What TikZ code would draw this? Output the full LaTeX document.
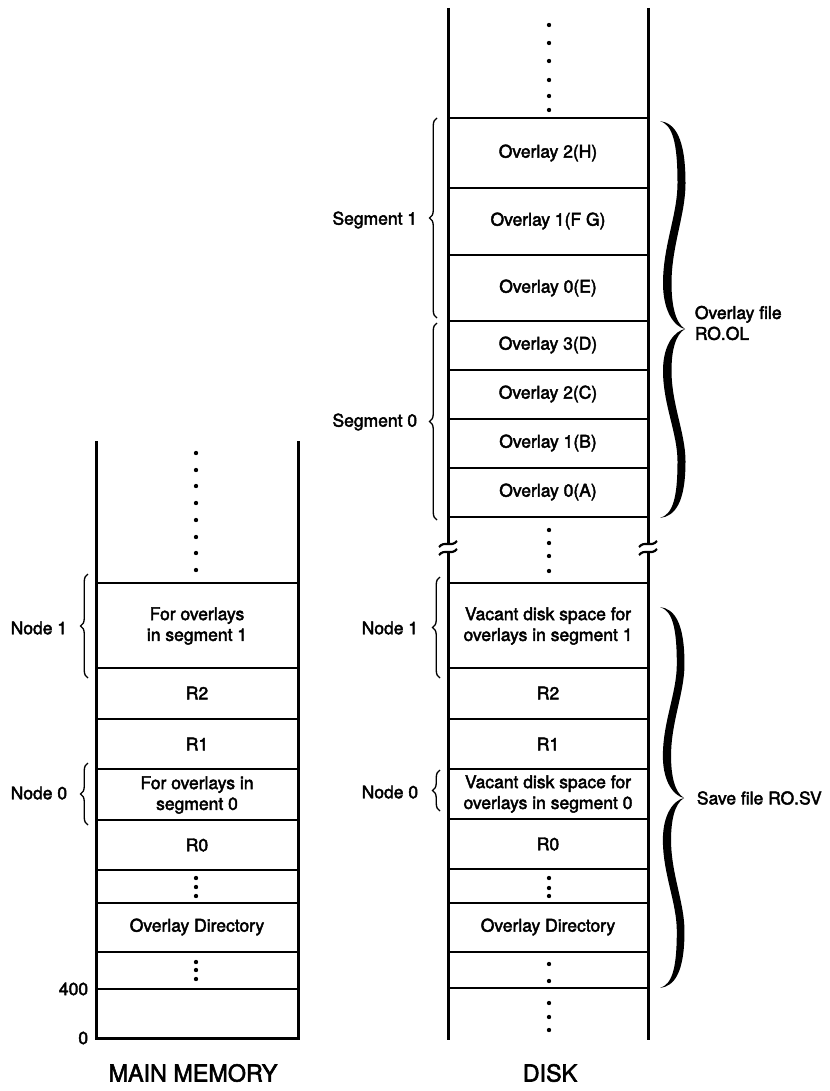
\documentclass[tikz,border=0pt]{standalone}
\usepackage{fontspec}
\setmainfont{TeX Gyre Heros}[FakeBold=2.5]
\usetikzlibrary{decorations.pathreplacing}

\begin{document}
\begin{tikzpicture}[x=0.6pt,y=-0.6pt]
        \tikzset{wall/.style={line width=1.8pt},
            rowline/.style={line width=1.3pt},
            cell/.style={font=\fontsize{10.5}{12.5}\selectfont,align=center},
            side/.style={font=\fontsize{10.5}{12.5}\selectfont,align=left},
            title/.style={font=\fontsize{14}{16}\selectfont},
            thinbrace/.style={decorate,decoration={brace,amplitude=4.5pt},line width=0.8pt},
            bigarm/.pic={
                \fill (0,0) .. controls (0.5,0.02) and (0.7,0.1) .. (0.7,0.3)
                    .. controls (0.7,0.45) and (0.12,0.6) .. (0.12,0.78)
                    .. controls (0.12,0.92) and (0.6,0.99) .. (1,1)
                    .. controls (0.6,0.97) and (0.46,0.88) .. (0.46,0.78)
                    .. controls (0.46,0.6) and (1.02,0.45) .. (1.02,0.3)
                    .. controls (1.02,0.08) and (0.6,0.01) .. (0,0) -- cycle;
            }}
        \useasboundingbox (0,0) rectangle (829,1091);

        % main memory
        \draw[wall] (96,441) -- (96,1038) -- (298,1038) -- (298,441);
        \foreach \y in {583,668,719,769,820,870,903,952,989}
            \draw[rowline] (96,\y) -- (298,\y);
        \foreach \y in {453,470,486,503,520,537,553,570,878,887,896,962,970,979}
            \fill (196,\y) circle (1.3pt);
        \node[cell] (mseg1) at (197,626) {For overlays\\in segment 1};
        \node[cell] (mr2) at (197,693) {R2};
        \node[cell] (mr1) at (197,744) {R1};
        \node[cell] (mseg0) at (197,795) {For overlays in\\segment 0};
        \node[cell] (mr0) at (197,845) {R0};
        \node[cell] (mdir) at (197,927) {Overlay Directory};
        \node[cell,anchor=east] (m400) at (94,989) {400};
        \node[cell,anchor=east] (mzero) at (94,1038) {0};
        \draw[thinbrace] (88,678) -- (88,574);
        \node[side,anchor=east] (mnode1) at (73,628) {Node 1};
        \draw[thinbrace] (88,825) -- (88,763);
        \node[side,anchor=east] (mnode0) at (73,793) {Node 0};
        \node[title] (mtitle) at (193,1073) {MAIN MEMORY};

        % disk
        \foreach \x in {448,648} {
            \draw[wall] (\x,8) -- (\x,544);
            \draw[wall] (\x,552) -- (\x,1040);
            \foreach \y in {544,552}
                \draw[rowline] (\x-9,\y+3) .. controls (\x-3,\y-4) and (\x+3,\y+4) .. (\x+9,\y-3);
        }
        \foreach \y in {118,188,255,321,370,419,468,517,583,668,719,769,819,869,903,952,988}
            \draw[rowline] (448,\y) -- (648,\y);
        \foreach \y in {25,43,61,80,96,110,530,543,556,571,878,888,896,964,981,1003,1017,1030}
            \fill (549,\y) circle (1.3pt);
        \node[cell] (dh) at (548,153) {Overlay 2(H)};
        \node[cell] (dfg) at (548,221) {Overlay 1(F G)};
        \node[cell] (de) at (548,288) {Overlay 0(E)};
        \node[cell] (dd) at (548,345) {Overlay 3(D)};
        \node[cell] (dc) at (548,394) {Overlay 2(C)};
        \node[cell] (db) at (548,443) {Overlay 1(B)};
        \node[cell] (da) at (548,492) {Overlay 0(A)};
        \node[cell] (dseg1) at (548,626) {Vacant disk space for\\overlays in segment 1};
        \node[cell] (dr2) at (548,693) {R2};
        \node[cell] (dr1) at (548,744) {R1};
        \node[cell] (dseg0) at (548,794) {Vacant disk space for\\overlays in segment 0};
        \node[cell] (dr0) at (548,844) {R0};
        \node[cell] (ddir) at (548,927) {Overlay Directory};
        \draw[thinbrace] (437,318) -- (437,118);
        \node[side,anchor=east] (segone) at (423,220) {Segment 1};
        \draw[thinbrace] (437,520) -- (437,323);
        \node[side,anchor=east] (segzero) at (423,422) {Segment 0};
        \draw[thinbrace] (440,678) -- (440,577);
        \node[side,anchor=east] (dnode1) at (424,628) {Node 1};
        \draw[thinbrace] (440,811) -- (440,770);
        \node[side,anchor=east] (dnode0) at (424,792) {Node 0};
        % overlay file and save file
        \pic[xscale=25,yscale=208] at (660,121) {bigarm};
        \pic[xscale=25,yscale=-189] at (660,518) {bigarm};
        \node[side,anchor=west] (olfile) at (689,323) {Overlay file\\RO.OL};
        \pic[xscale=24,yscale=191] at (660,607) {bigarm};
        \pic[xscale=24,yscale=-190] at (660,988) {bigarm};
        \node[side,anchor=west] (svfile) at (691,798) {Save file RO.SV};
        \node[title] (dtitle) at (550,1073) {DISK};
    \end{tikzpicture}
\end{document}
